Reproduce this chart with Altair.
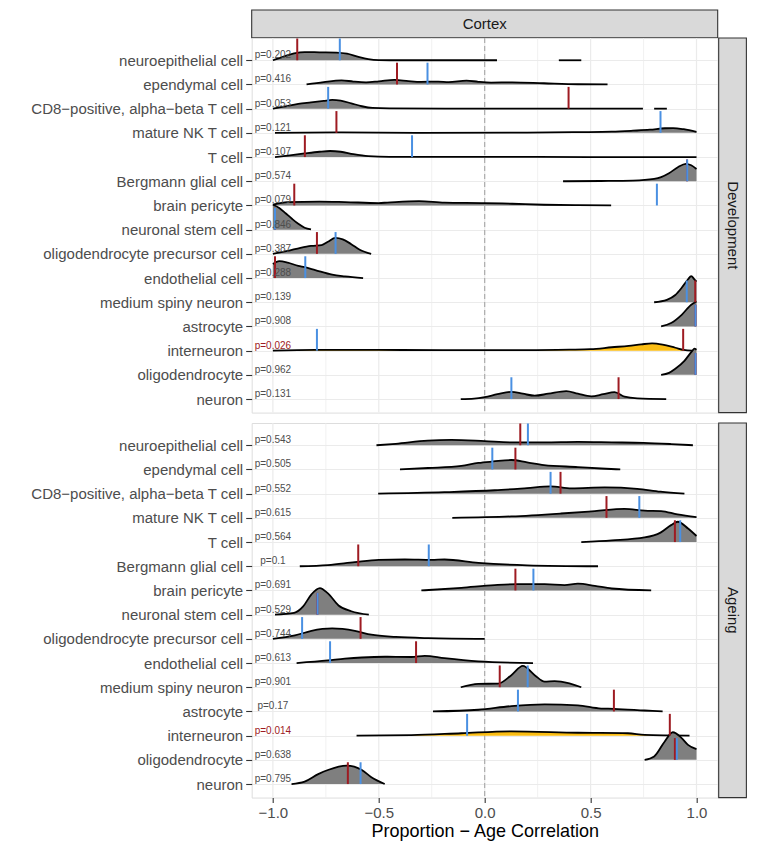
import json
import altair as alt
import pandas as pd

# ---------------- data ----------------
cell_types = [
    "neuroepithelial cell", "ependymal cell", "CD8\u2212positive, alpha\u2212beta T cell",
    "mature NK T cell", "T cell", "Bergmann glial cell", "brain pericyte",
    "neuronal stem cell", "oligodendrocyte precursor cell", "endothelial cell",
    "medium spiny neuron", "astrocyte", "interneuron", "oligodendrocyte", "neuron",
]
highlight_cell = "interneuron"
panel_names = ["Development", "Ageing"]
facet_col = "Cortex"

dev_p = ["0.202", "0.416", "0.053", "0.121", "0.107", "0.574", "0.079", "0.846",
         "0.387", "0.288", "0.139", "0.908", "0.026", "0.962", "0.131"]
dev_red = [-0.885, -0.414, 0.396, -0.70, -0.849, 0.955, -0.899, -0.99,
           -0.792, -0.99, 0.994, 0.995, 0.937, 0.995, 0.632]
dev_blue = [-0.684, -0.27, -0.739, 0.83, -0.343, 0.956, 0.813, -0.99,
            -0.704, -0.847, 0.954, 0.995, -0.792, 0.995, 0.126]

age_p = ["0.543", "0.505", "0.552", "0.615", "0.564", "0.1", "0.691", "0.529",
         "0.744", "0.613", "0.901", "0.17", "0.014", "0.638", "0.795"]
age_red = [0.168, 0.145, 0.358, 0.575, 0.898, -0.597, 0.145, -0.79,
           -0.586, -0.324, 0.071, 0.61, 0.874, 0.898, -0.646]
age_blue = [0.204, 0.036, 0.311, 0.73, 0.923, -0.264, 0.23, -0.789,
            -0.862, -0.73, 0.203, 0.157, -0.083, 0.907, -0.586]

# ridge outlines: per cell type, list of segments of [correlation, ridge height]
dev_ridges = [
    [[[-1.0, 0], [-0.95, 0.15], [-0.9, 0.28], [-0.85, 0.34], [-0.78, 0.33], [-0.7, 0.32],
      [-0.65, 0.27], [-0.6, 0.15], [-0.55, 0.05], [-0.5, 0.01], [-0.4, 0], [0.058, 0]],
     [[0.35, 0], [0.456, 0]]],
    [[[-0.841, 0], [-0.76, 0.1], [-0.676, 0.17], [-0.62, 0.12], [-0.56, 0.09], [-0.5, 0.13],
      [-0.425, 0.19], [-0.36, 0.14], [-0.3, 0.11], [-0.22, 0.12], [-0.17, 0.1], [-0.086, 0.16],
      [-0.03, 0.11], [0.03, 0.08], [0.13, 0.09], [0.28, 0.05], [0.44, 0.01], [0.58, 0]]],
    [[[-1.0, 0], [-0.95, 0.08], [-0.88, 0.2], [-0.82, 0.26], [-0.76, 0.32], [-0.72, 0.36],
      [-0.68, 0.33], [-0.63, 0.22], [-0.58, 0.1], [-0.53, 0.03], [-0.45, 0.01], [0.0, 0], [0.747, 0]],
     [[0.8, 0], [0.86, 0]]],
    [[[-0.99, 0], [-0.7, 0.02], [-0.3, 0.0], [0.2, 0.01], [0.45, 0.03], [0.6, 0.05],
      [0.7, 0.09], [0.78, 0.13], [0.85, 0.19], [0.89, 0.2], [0.94, 0.15], [1.0, 0.04]]],
    [[[-0.99, 0], [-0.92, 0.07], [-0.85, 0.15], [-0.78, 0.22], [-0.73, 0.25], [-0.68, 0.22],
      [-0.62, 0.12], [-0.55, 0.04], [-0.45, 0.01], [0.0, 0.01], [0.5, 0.0], [1.0, 0]]],
    [[[0.37, 0], [0.55, 0.01], [0.7, 0.03], [0.8, 0.1], [0.833, 0.17], [0.87, 0.33],
      [0.912, 0.58], [0.95, 0.72], [0.975, 0.66], [1.0, 0.51]]],
    [[[-1.0, 0.03], [-0.93, 0.14], [-0.78, 0.16], [-0.66, 0.14], [-0.5, 0.1], [-0.46, 0.12],
      [-0.31, 0.18], [-0.19, 0.12], [0.0, 0.1], [0.13, 0.07], [0.28, 0.03], [0.44, 0.01], [0.597, 0]]],
    [[[-1.0, 1.03], [-0.97, 0.9], [-0.94, 0.68], [-0.91, 0.45], [-0.88, 0.24], [-0.85, 0.08],
      [-0.82, 0.01]]],
    [[[-1.0, 0], [-0.93, 0.12], [-0.87, 0.25], [-0.82, 0.33], [-0.77, 0.36], [-0.74, 0.5],
      [-0.705, 0.66], [-0.67, 0.6], [-0.63, 0.4], [-0.59, 0.17], [-0.536, 0]]],
    [[[-1.0, 0.58], [-0.97, 0.7], [-0.93, 0.64], [-0.88, 0.5], [-0.85, 0.45], [-0.8, 0.33],
      [-0.72, 0.14], [-0.66, 0.07], [-0.574, 0.0]]],
    [[[0.80, 0], [0.86, 0.1], [0.9, 0.3], [0.93, 0.6], [0.96, 0.95], [0.975, 1.08],
      [0.99, 0.95], [1.0, 0.85]]],
    [[[0.833, 0], [0.88, 0.14], [0.93, 0.48], [0.975, 0.9], [1.0, 1.03]]],
    [[[-1.0, 0.0], [-0.8, 0.03], [-0.5, 0.03], [-0.2, 0.02], [0.2, 0.02], [0.4, 0.04],
      [0.5, 0.06], [0.6, 0.14], [0.68, 0.2], [0.74, 0.26], [0.79, 0.3], [0.84, 0.25],
      [0.9, 0.12], [0.94, 0.03], [0.98, 0.0]]],
    [[[0.833, 0], [0.87, 0.08], [0.9, 0.25], [0.943, 0.58], [0.98, 0.99], [0.99, 1.08],
      [1.0, 1.04]]],
    [[[-0.113, 0], [-0.05, 0.02], [0.0, 0.08], [0.06, 0.2], [0.126, 0.3], [0.18, 0.22],
      [0.236, 0.14], [0.3, 0.22], [0.385, 0.33], [0.44, 0.22], [0.503, 0.11], [0.56, 0.2],
      [0.613, 0.29], [0.66, 0.1], [0.72, 0.03], [0.857, 0]]],
]

age_ridges = [
    [[[-0.511, 0], [-0.42, 0.06], [-0.27, 0.19], [-0.157, 0.22], [0.0, 0.17], [0.126, 0.12],
      [0.28, 0.12], [0.44, 0.14], [0.6, 0.12], [0.75, 0.1], [0.88, 0.05], [0.983, 0]]],
    [[[-0.4, 0], [-0.267, 0.06], [-0.11, 0.15], [-0.03, 0.27], [0.04, 0.33], [0.126, 0.39],
      [0.2, 0.29], [0.28, 0.18], [0.44, 0.1], [0.55, 0.04], [0.64, 0]]],
    [[[-0.503, 0], [-0.19, 0.06], [0.047, 0.14], [0.2, 0.23], [0.31, 0.3], [0.41, 0.22],
      [0.566, 0.26], [0.72, 0.2], [0.83, 0.08], [0.943, 0]]],
    [[[-0.153, 0], [0.126, 0.06], [0.36, 0.18], [0.52, 0.28], [0.66, 0.37], [0.755, 0.3],
      [0.833, 0.28], [0.91, 0.14], [1.0, 0.03]]],
    [[[0.456, 0], [0.6, 0.07], [0.755, 0.19], [0.83, 0.39], [0.88, 0.7], [0.912, 0.84],
      [0.96, 0.56], [1.0, 0.25]]],
    [[[-0.873, 0], [-0.74, 0.05], [-0.613, 0.17], [-0.5, 0.26], [-0.377, 0.28], [-0.25, 0.26],
      [-0.19, 0.28], [-0.03, 0.14], [0.2, 0.04], [0.535, 0]]],
    [[[-0.299, 0], [-0.11, 0.11], [0.047, 0.22], [0.157, 0.26], [0.283, 0.26], [0.377, 0.22],
      [0.44, 0.28], [0.52, 0.19], [0.6, 0.08], [0.786, 0]]],
    [[[-0.99, 0], [-0.9, 0.07], [-0.857, 0.34], [-0.818, 0.84], [-0.778, 1.1], [-0.74, 0.88],
      [-0.69, 0.38], [-0.63, 0.14], [-0.547, 0]]],
    [[[-1.0, 0], [-0.896, 0.14], [-0.818, 0.33], [-0.72, 0.43], [-0.613, 0.33], [-0.535, 0.17],
      [-0.42, 0.08], [-0.267, 0.03], [0.0, 0]]],
    [[[-0.888, 0], [-0.74, 0.11], [-0.66, 0.18], [-0.58, 0.23], [-0.47, 0.26], [-0.346, 0.25],
      [-0.283, 0.3], [-0.19, 0.2], [-0.03, 0.07], [0.228, 0]]],
    [[[-0.113, 0], [-0.03, 0.14], [0.063, 0.15], [0.126, 0.5], [0.18, 0.88], [0.236, 0.5],
      [0.283, 0.23], [0.33, 0.25], [0.36, 0.23], [0.456, 0]]],
    [[[-0.244, 0], [-0.03, 0.07], [0.126, 0.22], [0.283, 0.29], [0.44, 0.25], [0.55, 0.12],
      [0.61, 0.11], [0.755, 0.04], [0.84, 0]]],
    [[[-0.605, 0], [-0.346, 0.02], [-0.11, 0.1], [0.126, 0.18], [0.44, 0.12], [0.676, 0.1],
      [0.755, 0.03], [0.967, 0]]],
    [[[0.755, 0], [0.8, 0.14], [0.85, 0.76], [0.888, 1.14], [0.93, 0.9], [0.96, 0.62],
      [1.0, 0.44]]],
    [[[-0.912, 0], [-0.85, 0.1], [-0.786, 0.41], [-0.74, 0.58], [-0.652, 0.76], [-0.58, 0.58],
      [-0.535, 0.28], [-0.472, 0]]],
]

x_major = [-1.0, -0.5, 0.0, 0.5, 1.0]
x_minor = [-0.75, -0.25, 0.25, 0.75]
zero_line = [0.0]
p_label_x = -1.0
tick_len = 0.9
p_cut = 0.05
x_domain = [-1.1, 1.1]
y_domain = [-0.56, 14.92]

# ---------------- style ----------------
RED = "#9e1b22"
BLUE = "#4a90e2"
GREY = "#7f7f7f"
ORANGE = "#fbbd13"
FONT = "Liberation Sans"
PW, PH, SW, TOPH = 466, 374.6, 27.7, 17.7

n = len(cell_types)
names_by_pos = [cell_types[n - 1 - k] for k in range(n)]
label_expr = json.dumps(names_by_pos, ensure_ascii=False) + "[datum.value]"


def make_panel(ridges, pvals, reds, blues, show_x):
    rows = []
    for i, c in enumerate(cell_types):
        base = n - 1 - i
        for s, seg in enumerate(ridges[i]):
            for x, h in seg:
                rows.append({"idx": i, "seg": f"{i}_{s}", "x": x, "base": base, "top": base + h})
    ridge_df = pd.DataFrame(rows)

    tick_df = pd.DataFrame({
        "cell": cell_types,
        "base": [n - 1 - i for i in range(n)],
        "tip": [n - 1 - i + tick_len for i in range(n)],
        "red": reds, "blue": blues,
        "px": [p_label_x] * n,
        "label": ["p=" + p for p in pvals],
        "col": [RED if float(p) < p_cut else "#4d4d4d" for p in pvals],
    })

    xs = alt.Scale(domain=x_domain, nice=False, zero=False)
    ys = alt.Scale(domain=y_domain, nice=False, zero=False)
    if show_x:
        xaxis = alt.Axis(values=x_major, format=".1f", grid=False, domain=False,
                         tickColor="#333333", tickSize=5, tickWidth=1.1,
                         labelColor="#4d4d4d", labelFontSize=15, labelFont=FONT, labelPadding=3,
                         title="Proportion \u2212 Age Correlation", titleFont=FONT,
                         titleFontSize=18, titleFontWeight="normal", titleColor="#000000",
                         titlePadding=2)
    else:
        xaxis = None
    yaxis = alt.Axis(values=list(range(n)), labelExpr=label_expr, grid=True,
                     gridColor="#ebebeb", gridWidth=1.2, domain=False,
                     tickColor="#333333", tickSize=6, tickWidth=1.1,
                     labelColor="#4d4d4d", labelFontSize=15, labelFont=FONT,
                     labelPadding=3, labelLimit=400, title=None)

    def X(f):
        return alt.X(f, type="quantitative", scale=xs, axis=xaxis)

    def Y(f):
        return alt.Y(f, type="quantitative", scale=ys, axis=yaxis)

    layers = []
    layers.append(alt.Chart(pd.DataFrame({"x": x_minor})).mark_rule(
        color="#ebebeb", strokeWidth=0.7).encode(x=X("x")))
    layers.append(alt.Chart(pd.DataFrame({"x": x_major})).mark_rule(
        color="#ebebeb", strokeWidth=1.2).encode(x=X("x")))
    layers.append(alt.Chart(pd.DataFrame({"x": zero_line})).mark_rule(
        color="#a6a6a6", strokeWidth=1.1, strokeDash=[5, 3]).encode(x=X("x")))

    for i, c in enumerate(cell_types):
        fillc = ORANGE if c == highlight_cell else GREY
        layers.append(alt.Chart(ridge_df).transform_filter(alt.datum.idx == i).mark_area(
            interpolate="monotone", color=fillc, opacity=1).encode(
            x=X("x"), y=Y("top"), y2="base:Q", detail="seg:N"))
        layers.append(alt.Chart(ridge_df).transform_filter(alt.datum.idx == i).mark_line(
            interpolate="monotone", color="black", strokeWidth=1.8).encode(
            x=X("x"), y=Y("top"), detail="seg:N"))

    layers.append(alt.Chart(tick_df).mark_rule(color=RED, strokeWidth=2).encode(
        x=X("red"), y=Y("base"), y2="tip:Q"))
    layers.append(alt.Chart(tick_df).mark_rule(color=BLUE, strokeWidth=2).encode(
        x=X("blue"), y=Y("base"), y2="tip:Q"))
    layers.append(alt.Chart(tick_df).mark_text(
        align="center", baseline="alphabetic", dy=-2, fontSize=10, font=FONT).encode(
        x=X("px"), y=Y("base"), text="label:N", color=alt.Color("col:N", scale=None)))

    return alt.layer(*layers).properties(width=PW, height=PH)


def right_strip(label):
    base = alt.Chart(pd.DataFrame({"label": [label]}))
    rect = base.mark_rect(fill="#d9d9d9", stroke="#333333", strokeWidth=1.1).encode(
        x=alt.value(0), x2=alt.value(SW), y=alt.value(0), y2=alt.value(PH))
    txt = base.mark_text(angle=90, fontSize=15, color="#1a1a1a", font=FONT).encode(
        text="label:N", x=alt.value(SW / 2), y=alt.value(PH / 2))
    return alt.layer(rect, txt).properties(
        width=SW, height=PH, view=alt.ViewBackground(stroke="transparent"))


def top_strip(label):
    base = alt.Chart(pd.DataFrame({"label": [label]}))
    rect = base.mark_rect(fill="#d9d9d9", stroke="#333333", strokeWidth=1.1).encode(
        x=alt.value(0), x2=alt.value(PW), y=alt.value(0), y2=alt.value(TOPH + 10))
    txt = base.mark_text(fontSize=15, color="#1a1a1a", font=FONT, baseline="middle").encode(
        text="label:N", x=alt.value(PW / 2), y=alt.value((TOPH + 10) / 2))
    return alt.layer(rect, txt).properties(
        width=PW, height=TOPH, view=alt.ViewBackground(stroke="transparent"))


empty = alt.Chart(pd.DataFrame({"a": [0]})).mark_rect(opacity=0).encode(
    x=alt.value(0), x2=alt.value(SW), y=alt.value(0), y2=alt.value(TOPH)).properties(
    width=SW, height=TOPH, view=alt.ViewBackground(stroke="transparent"))

dev = make_panel(dev_ridges, dev_p, dev_red, dev_blue, False)
age = make_panel(age_ridges, age_p, age_red, age_blue, True)

chart = alt.concat(
    top_strip(facet_col), empty,
    dev, right_strip(panel_names[0]),
    age, right_strip(panel_names[1]),
    columns=2, spacing={"row": 10, "column": 1}, bounds="flush", align="each",
).properties(
    padding={"left": 20.7, "top": 0, "right": 0, "bottom": 0}
).configure_view(stroke="#333333", strokeWidth=1.1).configure(font=FONT)

chart.save("out.html", embed_options={"renderer": "svg", "actions": False})
